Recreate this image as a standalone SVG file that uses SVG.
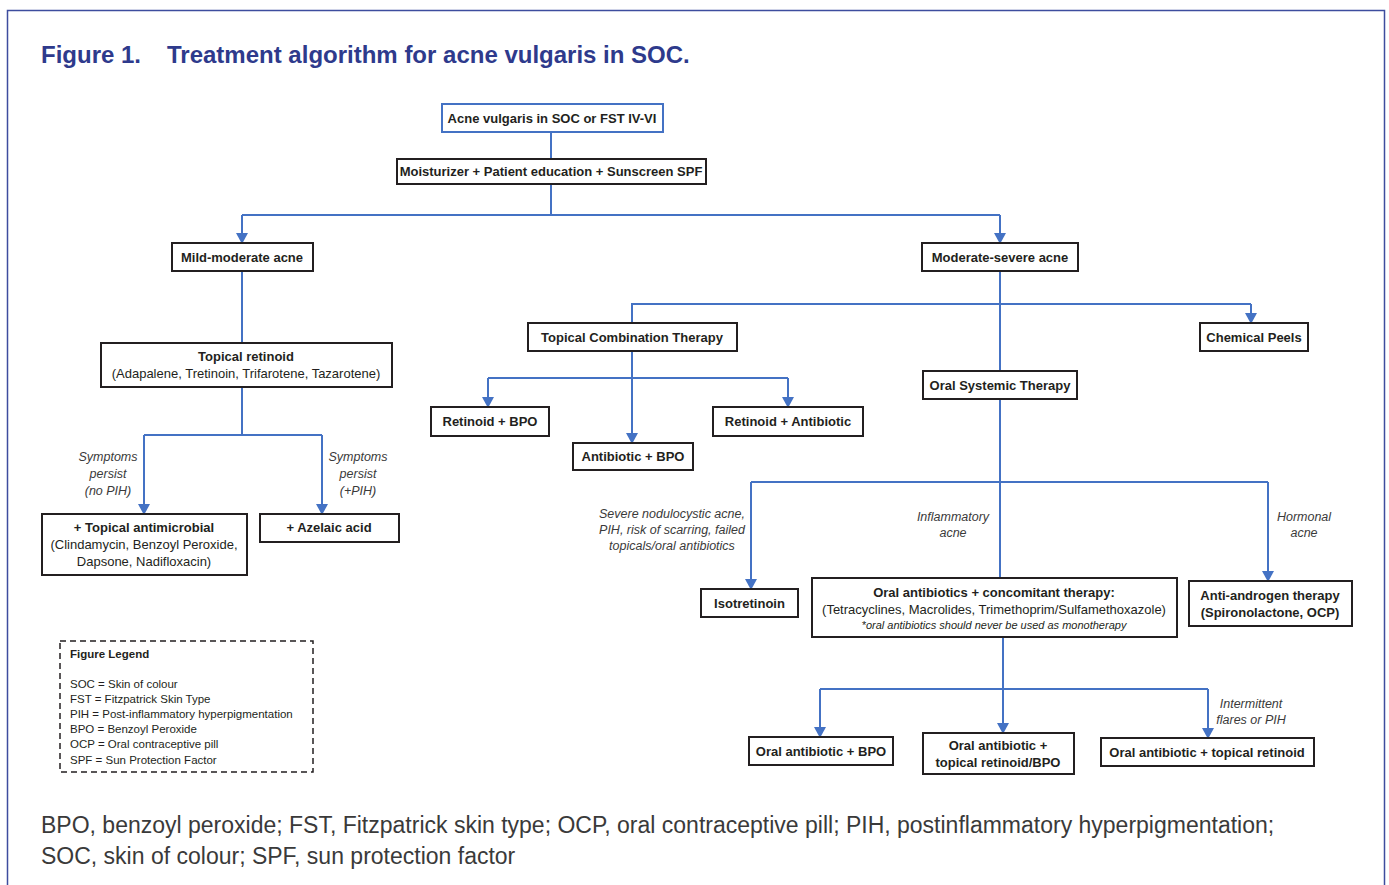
<svg xmlns="http://www.w3.org/2000/svg" width="1389" height="885" viewBox="0 0 1389 885">
<style>
.box{fill:#fff;stroke:#231f20;stroke-width:2}
.bbox{fill:#fff;stroke:#4472c4;stroke-width:2}
.b{font-family:"Liberation Sans",Arial,sans-serif;font-weight:bold;font-size:13px;fill:#231f20;text-anchor:middle}
.r{font-family:"Liberation Sans",Arial,sans-serif;font-size:13px;fill:#231f20;text-anchor:middle}
.i{font-family:"Liberation Sans",Arial,sans-serif;font-style:italic;font-size:12.5px;fill:#3a3a3a;text-anchor:middle}
.note{font-family:"Liberation Sans",Arial,sans-serif;font-style:italic;font-size:11px;fill:#231f20;text-anchor:middle}
.leg{font-family:"Liberation Sans",Arial,sans-serif;font-size:11.5px;fill:#231f20}
.cap{font-family:"Liberation Sans",Arial,sans-serif;font-size:23px;fill:#3a3a3a}
.title{font-family:"Liberation Sans",Arial,sans-serif;font-weight:bold;font-size:24px;fill:#2e3a8c}
.c{fill:none;stroke:#4472c4;stroke-width:2}
.ca{fill:none;stroke:#4472c4;stroke-width:2;marker-end:url(#ah)}
</style>
<defs>
<marker id="ah" markerUnits="userSpaceOnUse" markerWidth="11" markerHeight="12" refX="10" refY="6" orient="auto" viewBox="0 0 11 12">
<path d="M0,0 L11,6 L0,12 Z" fill="#4472c4"/>
</marker>
</defs>
<rect width="1389" height="885" fill="#fff"/>
<path d="M7.5,885 V10.5 H1384.5 V885" fill="none" stroke="#3d4d9e" stroke-width="1.5"/>
<text class="title" x="41" y="63">Figure 1.</text>
<text class="title" x="167" y="63">Treatment algorithm for acne vulgaris in SOC.</text>

<g id="connectors">
<path class="c" d="M551,132 V159"/>
<path class="c" d="M551,184 V215"/>
<path class="c" d="M242,215 H1000"/>
<path class="ca" d="M242,215 V243"/>
<path class="ca" d="M1000,215 V243"/>
<path class="c" d="M242,271 V343"/>
<path class="c" d="M242,387 V435"/>
<path class="c" d="M144,435 H322"/>
<path class="ca" d="M144,435 V514"/>
<path class="ca" d="M322,435 V514"/>
<path class="c" d="M1000,271 V371"/>
<path class="c" d="M632,323 V304 H1251"/>
<path class="ca" d="M1251,304 V323"/>
<path class="ca" d="M632,351 V443"/>
<path class="c" d="M488,378 H788"/>
<path class="ca" d="M488,378 V407"/>
<path class="ca" d="M788,378 V407"/>
<path class="c" d="M1000,399 V578"/>
<path class="c" d="M751,482 H1268"/>
<path class="ca" d="M751,482 V589"/>
<path class="ca" d="M1268,482 V581"/>
<path class="ca" d="M1003,637 V733"/>
<path class="c" d="M820,689 H1208"/>
<path class="ca" d="M820,689 V737"/>
<path class="ca" d="M1208,689 V738"/>
</g>

<g id="n-root"><rect class="bbox" x="442" y="104" width="221" height="28"/><text class="b" x="552" y="122.5">Acne vulgaris in SOC or FST IV-VI</text></g>
<g id="n-base"><rect class="box" x="397" y="159" width="309" height="25"/><text class="b" x="551" y="176">Moisturizer + Patient education + Sunscreen SPF</text></g>
<g id="n-mild"><rect class="box" x="172" y="243" width="141" height="28"/><text class="b" x="242" y="261.5">Mild-moderate acne</text></g>
<g id="n-retinoid"><rect class="box" x="101" y="343" width="291" height="44"/><text class="b" x="246" y="361">Topical retinoid</text><text class="r" x="246" y="378">(Adapalene, Tretinoin, Trifarotene, Tazarotene)</text></g>
<g id="n-antimicrobial"><rect class="box" x="42" y="514" width="205" height="61"/><text class="b" x="144" y="532">+ Topical antimicrobial</text><text class="r" x="144" y="549">(Clindamycin, Benzoyl Peroxide,</text><text class="r" x="144" y="566">Dapsone, Nadifloxacin)</text></g>
<g id="n-azelaic"><rect class="box" x="260" y="514" width="139" height="28"/><text class="b" x="329" y="532">+ Azelaic acid</text></g>
<g id="l-nopih"><text class="i" x="108" y="461">Symptoms</text><text class="i" x="108" y="478">persist</text><text class="i" x="108" y="495">(no PIH)</text></g>
<g id="l-pih"><text class="i" x="358" y="461">Symptoms</text><text class="i" x="358" y="478">persist</text><text class="i" x="358" y="495">(+PIH)</text></g>

<g id="n-modsev"><rect class="box" x="922" y="243" width="156" height="28"/><text class="b" x="1000" y="261.5">Moderate-severe acne</text></g>
<g id="n-tct"><rect class="box" x="528" y="323" width="209" height="28"/><text class="b" x="632" y="341.5">Topical Combination Therapy</text></g>
<g id="n-peels"><rect class="box" x="1200" y="323" width="108" height="28"/><text class="b" x="1254" y="341.5">Chemical Peels</text></g>
<g id="n-retbpo"><rect class="box" x="431" y="407" width="118" height="29"/><text class="b" x="490" y="426">Retinoid + BPO</text></g>
<g id="n-retab"><rect class="box" x="713" y="407" width="150" height="29"/><text class="b" x="788" y="426">Retinoid + Antibiotic</text></g>
<g id="n-abbpo"><rect class="box" x="573" y="443" width="120" height="27"/><text class="b" x="633" y="461">Antibiotic + BPO</text></g>
<g id="n-ost"><rect class="box" x="923" y="371" width="154" height="28"/><text class="b" x="1000" y="389.5">Oral Systemic Therapy</text></g>

<g id="l-severe"><text class="i" x="672" y="518">Severe nodulocystic acne,</text><text class="i" x="672" y="534">PIH, risk of scarring, failed</text><text class="i" x="672" y="550">topicals/oral antibiotics</text></g>
<g id="l-inflam"><text class="i" x="953" y="521">Inflammatory</text><text class="i" x="953" y="537">acne</text></g>
<g id="l-hormonal"><text class="i" x="1304" y="521">Hormonal</text><text class="i" x="1304" y="537">acne</text></g>

<g id="n-iso"><rect class="box" x="701" y="589" width="97" height="28"/><text class="b" x="749.5" y="607.5">Isotretinoin</text></g>
<g id="n-oral"><rect class="box" x="812" y="578" width="365" height="59"/><text class="b" x="994" y="597">Oral antibiotics + concomitant therapy:</text><text class="r" x="994" y="614">(Tetracyclines, Macrolides, Trimethoprim/Sulfamethoxazole)</text><text class="note" x="994" y="629">*oral antibiotics should never be used as monotherapy</text></g>
<g id="n-antiandrogen"><rect class="box" x="1189" y="581" width="163" height="45"/><text class="b" x="1270" y="599.5">Anti-androgen therapy</text><text class="b" x="1270" y="616.5">(Spironolactone, OCP)</text></g>

<g id="n-oabpo"><rect class="box" x="749" y="737" width="144" height="28"/><text class="b" x="821" y="755.5">Oral antibiotic + BPO</text></g>
<g id="n-oatrb"><rect class="box" x="923" y="733" width="151" height="41"/><text class="b" x="998" y="750">Oral antibiotic +</text><text class="b" x="998" y="767">topical retinoid/BPO</text></g>
<g id="n-oatr"><rect class="box" x="1101" y="738" width="213" height="28"/><text class="b" x="1207" y="756.5">Oral antibiotic + topical retinoid</text></g>
<g id="l-intermittent"><text class="i" x="1251" y="708">Intermittent</text><text class="i" x="1251" y="724">flares or PIH</text></g>

<g id="legend"><rect x="60" y="641" width="253" height="131" fill="none" stroke="#231f20" stroke-width="1.5" stroke-dasharray="6,4"/>
<text class="leg" x="70" y="658" font-weight="bold">Figure Legend</text>
<text class="leg" x="70" y="688">SOC = Skin of colour</text>
<text class="leg" x="70" y="703">FST = Fitzpatrick Skin Type</text>
<text class="leg" x="70" y="718">PIH = Post-inflammatory hyperpigmentation</text>
<text class="leg" x="70" y="733">BPO = Benzoyl Peroxide</text>
<text class="leg" x="70" y="748">OCP = Oral contraceptive pill</text>
<text class="leg" x="70" y="764">SPF  = Sun Protection Factor</text>
</g>

<text class="cap" x="41" y="833">BPO, benzoyl peroxide; FST, Fitzpatrick skin type; OCP, oral contraceptive pill; PIH, postinflammatory hyperpigmentation;</text>
<text class="cap" x="41" y="864">SOC, skin of colour; SPF, sun protection factor</text>
</svg>
